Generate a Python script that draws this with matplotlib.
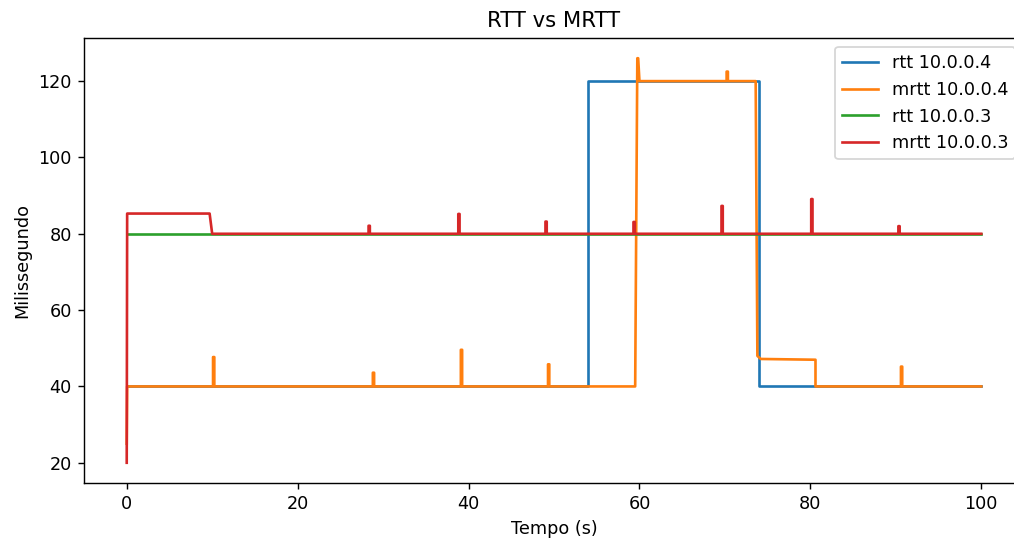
import matplotlib
matplotlib.use("Agg")
import matplotlib.pyplot as plt

# rtt 10.0.0.4
rtt4_t = [0, 54.0, 54.0, 74.0, 74.0, 100]
rtt4_v = [40, 40, 120, 120, 40, 40]

# mrtt 10.0.0.4
mrtt4_t = [0, 0.05, 10.1, 10.1, 10.25, 10.25, 28.8, 28.8, 28.95, 28.95,
           39.1, 39.1, 39.25, 39.25, 49.3, 49.3, 49.45, 49.45,
           59.5, 59.75, 59.85, 60.0, 70.2, 70.2, 70.35, 70.35, 73.6, 73.8,
           74.2, 80.6, 80.6, 90.6, 90.6, 90.75, 90.75, 100]
mrtt4_v = [25, 40, 40, 47.7, 47.7, 40, 40, 43.6, 43.6, 40,
           40, 49.6, 49.6, 40, 40, 45.8, 45.8, 40,
           40, 126, 126, 120, 120, 122.5, 122.5, 120, 120, 48,
           47.2, 47.0, 40, 40, 45.2, 45.2, 40, 40]

# rtt 10.0.0.3
rtt3_t = [0, 100]
rtt3_v = [80, 80]

# mrtt 10.0.0.3
mrtt3_t = [0, 0.05, 9.7, 10.0, 28.3, 28.3, 28.45, 28.45, 38.8, 38.8, 38.95, 38.95,
           49.0, 49.0, 49.15, 49.15, 59.3, 59.3, 59.45, 59.45, 69.6, 69.6, 69.75, 69.75,
           80.1, 80.1, 80.25, 80.25, 90.3, 90.3, 90.45, 90.45, 100]
mrtt3_v = [20, 85.3, 85.3, 80, 80, 82.1, 82.1, 80, 80, 85.2, 85.2, 80,
           80, 83.2, 83.2, 80, 80, 83.1, 83.1, 80, 80, 87.3, 87.3, 80,
           80, 89.1, 89.1, 80, 80, 82.0, 82.0, 80, 80]

fig = plt.figure(figsize=(1014 / 127, 545 / 127), dpi=127)
ax = fig.add_axes([84 / 1014, 62 / 545, 940 / 1014, 445 / 545])

ax.plot(rtt4_t, rtt4_v, label='rtt 10.0.0.4')
ax.plot(mrtt4_t, mrtt4_v, label='mrtt 10.0.0.4')
ax.plot(rtt3_t, rtt3_v, label='rtt 10.0.0.3')
ax.plot(mrtt3_t, mrtt3_v, label='mrtt 10.0.0.3')

ax.set_xlim(-5, 105)
ax.set_title('RTT vs MRTT')
ax.set_xlabel('Tempo (s)')
ax.set_ylabel('Milissegundo')
ax.legend(loc='upper right')
# the original picture is cut off before the right border of the axes
ax.spines['right'].set_visible(False)

fig.savefig('out.png', dpi=127)
